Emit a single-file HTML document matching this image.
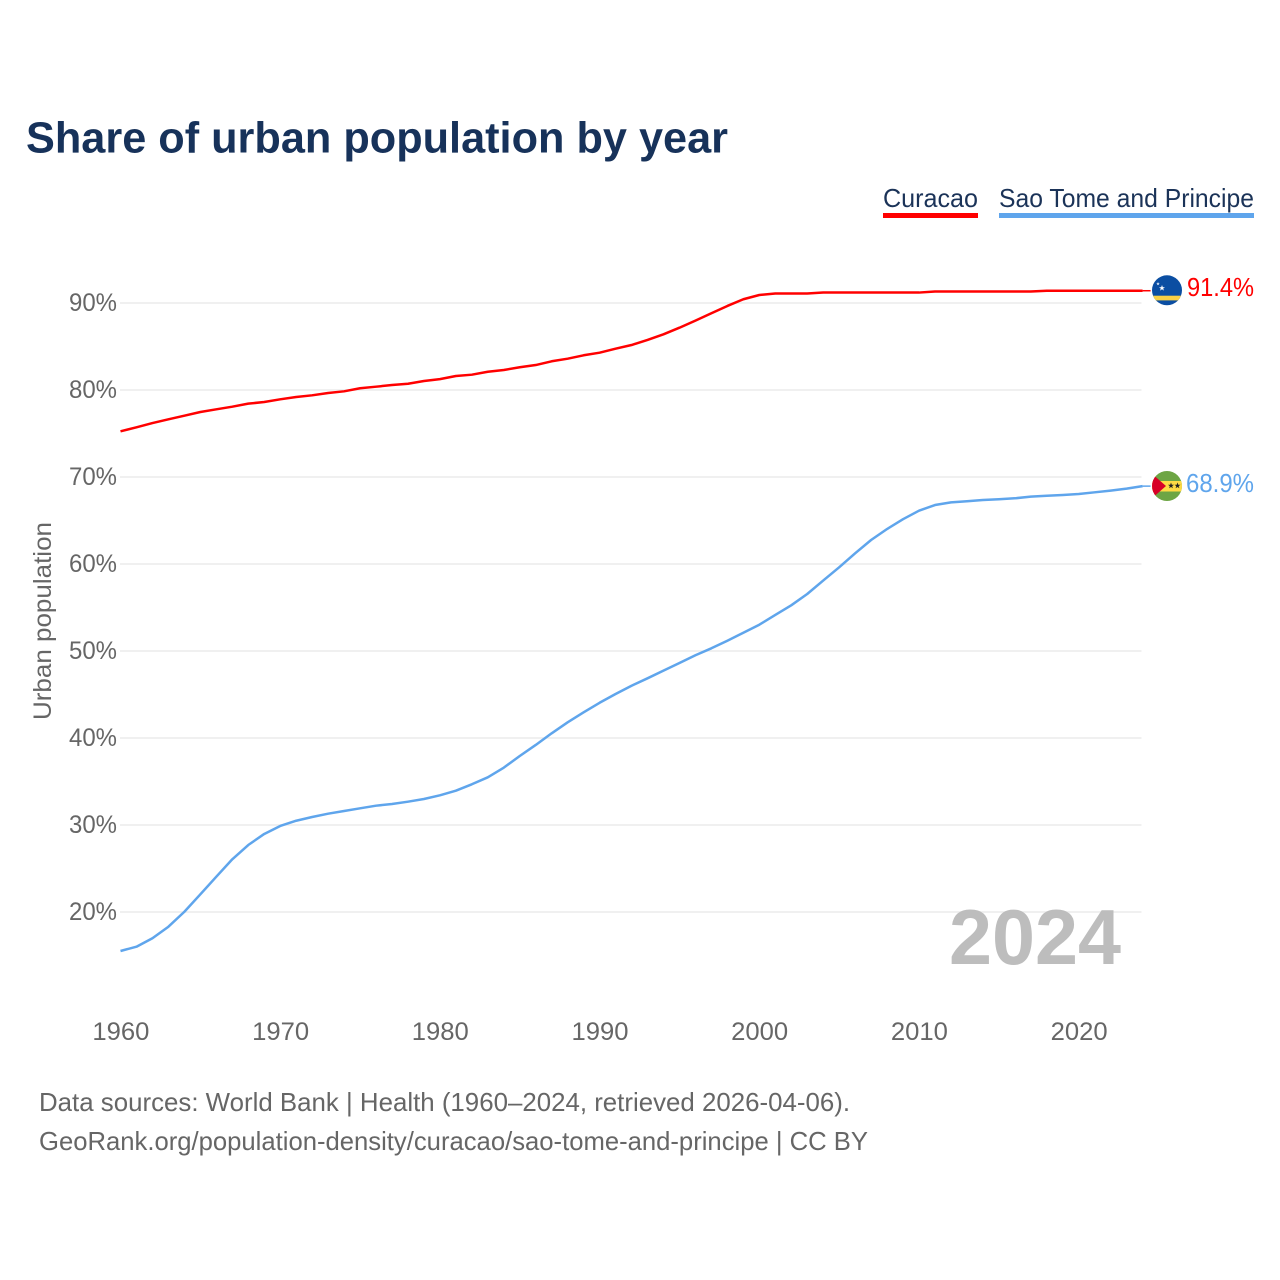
<!DOCTYPE html>
<html lang="en">
<head>
<meta charset="utf-8">
<title>Share of urban population by year</title>
<style>
html,body{margin:0;padding:0;background:#fff;width:1280px;height:1280px;overflow:hidden}
svg{display:block;font-family:"Liberation Sans",sans-serif}
</style>
</head>
<body>
<svg id="chart" xmlns="http://www.w3.org/2000/svg" width="1280" height="1280" viewBox="0 0 1280 1280">
  <rect x="0" y="0" width="1280" height="1280" fill="#fff"/>
  <text x="26" y="152.5" font-size="44" font-weight="700" fill="#17325a" textLength="702" lengthAdjust="spacingAndGlyphs">Share of urban population by year</text>

  <g>
    <g>
      <text x="883" y="207" font-size="26" fill="#1b3358" textLength="95" lengthAdjust="spacingAndGlyphs">Curacao</text>
      <rect x="883" y="213" width="95" height="5" fill="#ff0000"/>
    </g>
    <g>
      <text x="999" y="207" font-size="26" fill="#1b3358" textLength="255" lengthAdjust="spacingAndGlyphs">Sao Tome and Principe</text>
      <rect x="999" y="213" width="255" height="5" fill="#5fa5ec"/>
    </g>
  </g>

  <g id="grid"></g>
  <g id="yticks"></g>
  <g id="xticks"></g>
  <text transform="translate(51,621) rotate(-90)" text-anchor="middle" font-size="25" fill="#666" textLength="198" lengthAdjust="spacingAndGlyphs">Urban population</text>

  <text x="949" y="964" font-size="78" font-weight="700" fill="#bdbdbd" textLength="172" lengthAdjust="spacingAndGlyphs">2024</text>

  <g id="series"></g>

  <g>
    <clipPath id="clip-cw"><circle cx="1167" cy="290.3" r="15"/></clipPath>
    <g clip-path="url(#clip-cw)">
      <rect x="1150" y="274" width="34" height="34" fill="#0b4ea2"/>
      <rect x="1150" y="295.7" width="34" height="4.7" fill="#f9d045"/>
      <polygon points="1162,281.5 1162.8,283.7 1165,283.7 1163.2,285 1163.9,287.1 1162,285.8 1160.1,287.1 1160.8,285 1159,283.7 1161.2,283.7" fill="#fff" transform="translate(0,3.5)"/>
      <polygon points="1158,283 1158.5,284.2 1159.7,284.2 1158.8,285 1159.1,286.2 1158,285.5 1156.9,286.2 1157.2,285 1156.3,284.2 1157.5,284.2" fill="#dfeaf7" transform="translate(0,-1)"/>
    </g>
  </g>
  <g>
    <clipPath id="clip-st"><circle cx="1167" cy="486" r="15"/></clipPath>
    <g clip-path="url(#clip-st)">
      <rect x="1150" y="470" width="34" height="32" fill="#6da544"/>
      <rect x="1150" y="481" width="34" height="10.5" fill="#ffda44"/>
      <polygon points="1150,472 1166,486 1150,500" fill="#d80027"/>
      <polygon points="1171,482.5 1171.8,484.8 1174,484.8 1172.2,486.1 1172.9,488.3 1171,487 1169.1,488.3 1169.8,486.1 1168,484.8 1170.2,484.8" fill="#222"/>
      <polygon points="1177.5,482.5 1178.3,484.8 1180.5,484.8 1178.7,486.1 1179.4,488.3 1177.5,487 1175.6,488.3 1176.3,486.1 1174.5,484.8 1176.7,484.8" fill="#222"/>
    </g>
  </g>

  <text x="1187" y="296" font-size="26" fill="#ff0000" textLength="67" lengthAdjust="spacingAndGlyphs">91.4%</text>
  <text x="1186" y="492" font-size="26" fill="#5fa5ec" textLength="68" lengthAdjust="spacingAndGlyphs">68.9%</text>

  <text x="39" y="1111" font-size="26" fill="#666" textLength="811" lengthAdjust="spacingAndGlyphs">Data sources: World Bank | Health (1960–2024, retrieved 2026-04-06).</text>
  <text x="39" y="1150" font-size="26" fill="#666" textLength="829" lengthAdjust="spacingAndGlyphs">GeoRank.org/population-density/curacao/sao-tome-and-principe | CC BY</text>
</svg>
<script>
const yTickValues = [20, 30, 40, 50, 60, 70, 80, 90];
const xTickYears = [1960, 1970, 1980, 1990, 2000, 2010, 2020];
const startYear = 1960;
const curacaoValues = [
  75.25, 75.71, 76.2, 76.63, 77.05, 77.47, 77.78, 78.08, 78.43, 78.62,
  78.93, 79.2, 79.39, 79.66, 79.85, 80.2, 80.38, 80.57, 80.72, 81.03,
  81.25, 81.61, 81.76, 82.1, 82.3, 82.61, 82.87, 83.3, 83.6, 83.99,
  84.29, 84.75, 85.17, 85.75, 86.4, 87.16, 87.97, 88.82, 89.66, 90.43,
  90.92, 91.09, 91.09, 91.09, 91.2, 91.2, 91.2, 91.2, 91.2, 91.2,
  91.2, 91.32, 91.32, 91.32, 91.32, 91.32, 91.32, 91.32, 91.41, 91.41,
  91.41, 91.41, 91.41, 91.41, 91.41
];
const saoTomeValues = [
  15.52, 16.01, 16.98, 18.31, 20.03, 22.03, 24.06, 26.06, 27.7, 28.97,
  29.89, 30.49, 30.92, 31.3, 31.61, 31.92, 32.22, 32.41, 32.68, 32.99,
  33.41, 33.94, 34.68, 35.48, 36.59, 37.93, 39.2, 40.54, 41.8, 42.95,
  44.05, 45.06, 46.01, 46.86, 47.74, 48.62, 49.51, 50.31, 51.18, 52.1,
  53.02, 54.14, 55.25, 56.55, 58.1, 59.62, 61.23, 62.76, 64.02, 65.15,
  66.13, 66.78, 67.08, 67.21, 67.36, 67.44, 67.55, 67.74, 67.85, 67.93,
  68.05, 68.24, 68.43, 68.66, 68.95
];

const NS = 'http://www.w3.org/2000/svg';
function xScale(year) { return 120.5 + (year - 1960) * 15.97; }
function yScale(pct) { return 303 + (90 - pct) * 8.7; }
function make(tag, attrs, parent, text) {
  const el = document.createElementNS(NS, tag);
  for (const k in attrs) el.setAttribute(k, attrs[k]);
  if (text !== undefined) el.textContent = text;
  parent.appendChild(el);
  return el;
}
const gridGroup = document.getElementById('grid');
const yGroup = document.getElementById('yticks');
const xGroup = document.getElementById('xticks');
const seriesGroup = document.getElementById('series');

yTickValues.forEach(function (v) {
  const line = make('line', {x1: 120, x2: 1141.5, y1: yScale(v), y2: yScale(v), stroke: '#ececec', 'stroke-width': 1.6}, gridGroup);
  
  
  const label = make('text', {x: 117, y: yScale(v) + 8, 'text-anchor': 'end', 'font-size': 25, fill: '#666', textLength: 48, lengthAdjust: 'spacingAndGlyphs'}, yGroup, v + '%');
  
  
});

xTickYears.forEach(function (yr) {
  const label = make('text', {x: xScale(yr) + 0.4, y: 1040, 'text-anchor': 'middle', 'font-size': 25, fill: '#666', textLength: 57, lengthAdjust: 'spacingAndGlyphs'}, xGroup, String(yr));
  
  
});

function linePath(values) {
  let d = '';
  values.forEach(function (v, i) {
    d += (i ? 'L' : 'M') + xScale(startYear + i).toFixed(2) + ' ' + yScale(v).toFixed(2);
  });
  return d;
}
function connectorPath(values) {
  const lastIndex = values.length - 1;
  const endX = xScale(startYear + lastIndex);
  const endY = yScale(values[lastIndex]);
  return 'M' + endX.toFixed(2) + ' ' + endY.toFixed(2) + 'L' + (endX + 8).toFixed(2) + ' ' + endY.toFixed(2);
}

const curacaoLine = make('path', {d: linePath(curacaoValues), fill: 'none', stroke: '#ff0000', 'stroke-width': 2.5, 'stroke-linejoin': 'round'}, seriesGroup);


const curacaoLink = make('path', {d: connectorPath(curacaoValues), fill: 'none', stroke: '#ff0000', 'stroke-width': 1.5}, seriesGroup);



const saoTomeLine = make('path', {d: linePath(saoTomeValues), fill: 'none', stroke: '#5fa5ec', 'stroke-width': 2.5, 'stroke-linejoin': 'round'}, seriesGroup);


const saoTomeLink = make('path', {d: connectorPath(saoTomeValues), fill: 'none', stroke: '#5fa5ec', 'stroke-width': 1.5}, seriesGroup);


</script>
</body>
</html>
